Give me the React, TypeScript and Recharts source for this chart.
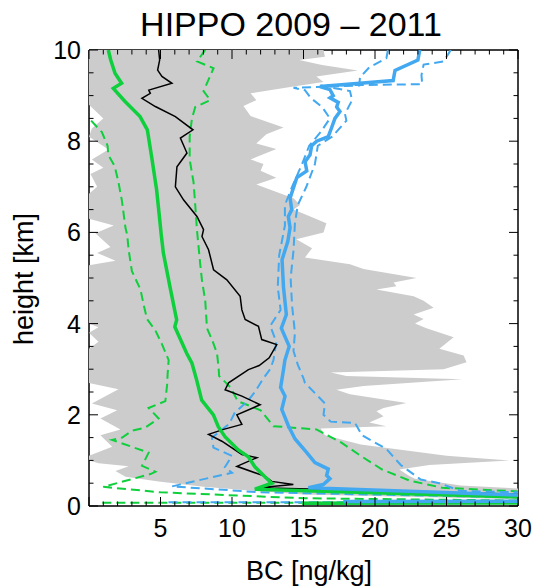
import React from 'react';
import { ScatterChart, Scatter, XAxis, YAxis } from 'recharts';

// profiles as [BC ng/kg, height km], listed top to bottom
const blackProfile = [
  [4.87, 10.0], [4.94, 9.78], [4.8, 9.56], [5.1, 9.42], [5.8, 9.27], [4.18, 9.12], [4.29, 9.05], [3.7, 8.94],
  [4.64, 8.76], [6.04, 8.54], [7.27, 8.25], [6.39, 8.07], [6.85, 7.74], [6.15, 7.44], [6.04, 7.0], [6.62, 6.71],
  [7.55, 6.35], [8.01, 6.06], [7.9, 5.91], [8.36, 5.62], [8.71, 5.18], [9.64, 4.96], [10.57, 4.6], [10.69, 4.3],
  [10.92, 4.09], [11.85, 3.94], [12.08, 3.65], [13.13, 3.54], [12.6, 3.25], [11.9, 3.08], [11.15, 2.99],
  [9.76, 2.7], [9.52, 2.55], [10.69, 2.41], [11.97, 2.22], [10.34, 2.0], [10.69, 1.79], [9.41, 1.68], [8.36, 1.57],
  [9.29, 1.42], [10.69, 1.13], [11.74, 1.06], [10.34, 0.87], [12.32, 0.65], [12.78, 0.54], [14.29, 0.47],
  [11.85, 0.4], [40, 0.18],
];

const greenMedian = [
  [1.35, 10], [1.52, 9.78], [1.82, 9.49], [2.28, 9.27], [1.7, 9.16], [2.52, 8.87], [3.57, 8.54], [4.08, 8.25],
  [4.38, 7.66], [4.73, 6.93], [4.9, 6.42], [5.05, 5.95], [5.2, 5.55], [5.66, 4.81], [6.13, 4.08], [6.0, 3.93],
  [6.83, 3.35], [7.2, 3.13], [7.53, 2.76], [7.88, 2.32], [8.7, 2.0], [9.04, 1.74], [9.51, 1.52], [10.44, 1.23],
  [11.14, 1.08], [11.6, 0.86], [12.3, 0.64], [12.78, 0.5], [11.6, 0.37], [30, 0.2], [200, 0.12], [14.9, 0.06],
];

const greenLow = [
  [0.15, 8.45], [0.9, 8.2], [1.3, 7.9], [1.35, 7.7], [1.8, 7.45], [2.06, 7.1], [2.3, 6.7], [2.55, 6.1],
  [2.67, 5.95], [2.78, 5.6], [3.0, 5.15], [3.6, 4.75], [3.83, 4.4], [4.06, 4.1], [4.64, 3.85], [5.1, 3.55],
  [5.57, 3.2], [5.5, 2.9], [5.46, 2.65], [5.34, 2.3], [4.17, 2.15], [4.87, 1.92], [3.94, 1.72], [3.01, 1.65],
  [2.32, 1.5], [1.62, 1.45], [3.25, 1.27], [4.17, 1.17], [3.71, 0.88], [4.64, 0.75], [4.29, 0.7], [1.0, 0.42],
  [5.0, 0.3], [15, 0.17], [30, 0.12], [200, 0.09], [0.8, 0.07],
];

const greenHigh = [
  [8.13, 10], [7.55, 9.75], [8.71, 9.6], [8.36, 9.35], [8.01, 9.1], [8.48, 8.9], [7.43, 8.75], [7.2, 8.5],
  [7.04, 8.1], [7.04, 7.6], [7.31, 7.1], [7.43, 6.6], [7.55, 6.05], [7.78, 5.3], [7.9, 4.95], [8.13, 4.5],
  [8.25, 3.9], [8.6, 3.65], [8.95, 3.35], [9.06, 3.05], [9.1, 2.85], [9.9, 2.6], [10.4, 2.3], [12.0, 2.1],
  [12.9, 1.75], [15.9, 1.68], [17.6, 1.4], [19.0, 1.1], [20.5, 0.8], [22.4, 0.56], [24.7, 0.4], [30, 0.32],
  [60, 0.3],
];

const blueMedian = [
  [23.13, 10], [23.0, 9.78], [21.4, 9.55], [21.27, 9.33], [16.15, 9.2], [16.85, 9.13], [17.08, 9.0],
  [16.85, 8.95], [17.43, 8.85], [17.32, 8.75], [17.55, 8.65], [17.2, 8.5], [16.97, 8.3], [16.73, 8.1],
  [15.92, 8.0], [15.57, 7.9], [15.46, 7.7], [15.11, 7.55], [15.23, 7.35], [14.53, 7.2], [14.29, 6.97],
  [14.06, 6.75], [14.18, 6.5], [13.94, 6.35], [14.06, 6.1], [13.9, 5.8], [13.5, 5.4], [13.6, 4.8], [13.8, 4.2],
  [13.45, 3.9], [14.0, 3.5], [13.7, 3.2], [13.6, 2.99], [13.4, 2.6], [13.71, 2.41], [13.48, 2.12], [13.94, 1.76],
  [14.41, 1.47], [15.23, 1.17], [15.8, 0.95], [16.73, 0.81], [16.62, 0.67], [16.85, 0.6], [16.38, 0.47],
  [15.34, 0.4], [30, 0.24], [200, 0.15], [17.78, 0.1],
];

const blueLow = [
  [20.9, 10], [20.8, 9.82], [19.6, 9.62], [18.95, 9.4], [18.9, 9.22], [14.3, 9.17], [15.1, 9.12], [15.5, 8.95],
  [16.3, 8.75], [16.85, 8.5], [16.2, 8.2], [15.4, 7.9], [14.9, 7.5], [14.2, 7.0], [13.7, 6.6], [13.7, 6.15],
  [13.3, 5.5], [13.2, 4.8], [13.4, 4.3], [12.67, 3.95], [13.1, 3.6], [12.9, 3.2], [12.67, 3.0], [12.2, 2.8],
  [11.6, 2.5], [11.1, 2.3], [10.2, 2.05], [9.8, 1.8], [8.6, 1.5], [8.7, 1.28], [10.0, 1.1], [9.5, 0.85],
  [10.0, 0.73], [5.8, 0.43], [12, 0.3], [30, 0.19], [200, 0.14], [5.2, 0.08],
];

const blueHigh = [
  [25.3, 10], [24.8, 9.75], [23.4, 9.68], [23.25, 9.45], [23.3, 9.25], [16.2, 9.22], [18.25, 9.1], [18.4, 8.9],
  [17.9, 8.6], [18.0, 8.45], [17.0, 8.1], [16.0, 7.9], [15.8, 7.5], [15.2, 7.0], [14.6, 6.6], [14.4, 6.2],
  [14.3, 5.6], [14.1, 5.0], [14.2, 4.4], [14.4, 3.8], [14.3, 3.4], [14.6, 3.1], [15.0, 2.8], [15.1, 2.7],
  [16.5, 2.25], [16.4, 2.0], [16.9, 1.85], [18.6, 1.82], [19.1, 1.55], [20.8, 1.25], [21.8, 0.9], [23.2, 0.58],
  [24.5, 0.5], [26, 0.33], [30, 0.3], [60, 0.28],
];

// grey envelope: right (max) and left (min) edges, top to bottom
const greyRight = [
  [16.4, 10], [16.5, 9.85], [14.7, 9.78], [16.3, 9.67], [18.8, 9.55], [15.9, 9.42], [16.4, 9.3], [14.3, 9.2],
  [11.3, 9.05], [11.7, 8.9], [10.8, 8.77], [11.3, 8.55], [13.6, 8.3], [12.4, 8.15], [11.7, 7.95], [13.1, 7.83],
  [11.3, 7.6], [12.2, 7.5], [12.0, 7.35], [13.1, 7.2], [11.7, 7.05], [14.3, 6.75], [14.76, 6.6], [14.3, 6.5],
  [16.6, 6.2], [16.4, 6.0], [14.5, 5.85], [15.6, 5.65], [15.1, 5.45], [18.25, 5.3], [19.2, 5.2], [22.9, 5.0],
  [21.3, 4.9], [21.5, 4.82], [20.1, 4.75], [22.7, 4.6], [23.4, 4.5], [24.1, 4.35], [22.7, 4.2], [23.4, 4.1],
  [22.8, 4.0], [23.6, 3.9], [25.5, 3.7], [24.5, 3.45], [26.2, 3.3], [26.4, 3.15], [24.8, 3.0], [16.9, 2.93],
  [18.0, 2.85], [26.1, 2.78], [19.2, 2.63], [17.3, 2.55], [18.25, 2.45], [22.2, 2.26], [20.6, 2.15],
  [20.1, 2.08], [20.6, 1.97], [19.6, 1.83], [20.8, 1.75], [16.2, 1.7], [16.5, 1.55], [19.0, 1.35], [25, 1.1],
  [29.4, 1.0], [23.8, 0.9], [21.7, 0.8], [22.4, 0.66], [22.8, 0.6], [26, 0.45], [32, 0.35], [32, 0.14],
];

const greyLeft = [
  [0, 10], [0, 8.8], [1.0, 8.5], [0.2, 8.28], [0, 8.1], [1.36, 7.82], [0.2, 7.6], [1.0, 7.42], [0.1, 7.28],
  [0.57, 7.0], [0, 6.85], [0, 6.3], [1.73, 6.15], [0.45, 5.98], [1.5, 5.68], [0.57, 5.55], [1.85, 5.38],
  [0, 5.28], [0, 4.0], [0.66, 3.92], [0, 3.8], [0.66, 3.6], [0, 3.45], [0, 2.7], [2.06, 2.56], [0.2, 2.25],
  [1.97, 2.1], [0.8, 1.92], [2.2, 1.68], [0.8, 1.55], [1.62, 1.3], [0, 1.1], [0, 1.0], [0.68, 0.94],
  [2.78, 0.87], [1.85, 0.77], [2.55, 0.64], [4.87, 0.54], [8, 0.42], [15, 0.25], [30, 0.15], [32, 0.16],
];

const xTicks = Array.from({ length: 31 }, (_, i) => i);
const yTicks = Array.from({ length: 21 }, (_, i) => i / 2);

const FONT = '"Liberation Sans", Arial, Helvetica, sans-serif';
const GREY = '#cccccc';
const GREEN = '#0ecf3c';
const BLUE = '#42a8f0';
const DASH = '9 5';

const toPts = (arr: number[][]) => arr.map(([v, h]) => ({ v, h }));
const greyPoly = [...greyRight, ...[...greyLeft].reverse()];

const noDot = () => <g />;

const BottomTick = ({ x, y, payload }: any) => {
  const v = payload.value;
  const major = v % 5 === 0;
  return (
    <g>
      <line x1={x} y1={y} x2={x} y2={y - (major ? 9 : 4.5)} stroke="#000" />
      {major && v !== 0 && (
        <text x={x} y={y + 31} textAnchor="middle" fontSize={25} fontFamily={FONT} fill="#000">{v}</text>
      )}
    </g>
  );
};

const TopTick = ({ x, y, payload }: any) => {
  const major = payload.value % 5 === 0;
  return <line x1={x} y1={y} x2={x} y2={y + (major ? 9 : 4.5)} stroke="#000" />;
};

const LeftTick = ({ x, y, payload }: any) => {
  const v = payload.value;
  const major = v % 2 === 0;
  return (
    <g>
      <line x1={x} y1={y} x2={x + (major ? 9 : 4.5)} y2={y} stroke="#000" />
      {major && (
        <text x={x - 8} y={y + 9} textAnchor="end" fontSize={25} fontFamily={FONT} fill="#000">{v}</text>
      )}
    </g>
  );
};

const RightTick = ({ x, y, payload }: any) => {
  const major = payload.value % 2 === 0;
  return <line x1={x} y1={y} x2={x - (major ? 9 : 4.5)} y2={y} stroke="#000" />;
};

export default function App() {
  const axisLine = { stroke: '#000', strokeWidth: 1.5 };
  return (
    <div style={{ position: 'absolute', left: 0, top: 0, width: 538, height: 587, background: '#fff' }}>
      <ScatterChart width={538} height={587} margin={{ top: 49, right: 19, bottom: 80, left: 88 }}>
        <Scatter data={toPts(greyPoly)} line={{ fill: GREY, stroke: 'none' }} shape={noDot} fill={GREY} isAnimationActive={false} />
        <Scatter data={toPts(greenLow)} line={{ stroke: GREEN, strokeWidth: 2, strokeDasharray: DASH }} shape={noDot} fill={GREEN} isAnimationActive={false} />
        <Scatter data={toPts(greenHigh)} line={{ stroke: GREEN, strokeWidth: 2, strokeDasharray: DASH }} shape={noDot} fill={GREEN} isAnimationActive={false} />
        <Scatter data={toPts(blueLow)} line={{ stroke: BLUE, strokeWidth: 2, strokeDasharray: DASH }} shape={noDot} fill={BLUE} isAnimationActive={false} />
        <Scatter data={toPts(blueHigh)} line={{ stroke: BLUE, strokeWidth: 2, strokeDasharray: DASH }} shape={noDot} fill={BLUE} isAnimationActive={false} />
        <Scatter data={toPts(blackProfile)} line={{ stroke: '#000', strokeWidth: 1.5 }} shape={noDot} fill="#000" isAnimationActive={false} />
        <Scatter data={toPts(greenMedian)} line={{ stroke: GREEN, strokeWidth: 3.5 }} shape={noDot} fill={GREEN} isAnimationActive={false} />
        <Scatter data={toPts(blueMedian)} line={{ stroke: BLUE, strokeWidth: 3.5 }} shape={noDot} fill={BLUE} isAnimationActive={false} />
        <XAxis type="number" dataKey="v" domain={[0, 30]} allowDataOverflow ticks={xTicks} interval={0}
          height={1} tickSize={0} tickMargin={0} tickLine={false} axisLine={axisLine} tick={BottomTick} />
        <XAxis xAxisId="top" orientation="top" type="number" dataKey="v" domain={[0, 30]} allowDataOverflow ticks={xTicks}
          interval={0} height={1} tickSize={0} tickMargin={0} tickLine={false} axisLine={axisLine} tick={TopTick} />
        <YAxis type="number" dataKey="h" domain={[0, 10]} allowDataOverflow ticks={yTicks} interval={0}
          width={1} tickSize={0} tickMargin={0} tickLine={false} axisLine={axisLine} tick={LeftTick} />
        <YAxis yAxisId="right" orientation="right" type="number" dataKey="h" domain={[0, 10]} allowDataOverflow ticks={yTicks}
          interval={0} width={1} tickSize={0} tickMargin={0} tickLine={false} axisLine={axisLine} tick={RightTick} />
      </ScatterChart>
      <svg width={538} height={587} style={{ position: 'absolute', left: 0, top: 0, pointerEvents: 'none' }}>
        <text x={291} y={36} textAnchor="middle" fontSize={34} fontFamily={FONT} fill="#000">HIPPO 2009 – 2011</text>
        <text x={309} y={580} textAnchor="middle" fontSize={27} fontFamily={FONT} fill="#000">BC [ng/kg]</text>
        <text x={33} y={279} textAnchor="middle" fontSize={27} fontFamily={FONT} fill="#000" transform="rotate(-90 33 279)">height [km]</text>
      </svg>
    </div>
  );
}
